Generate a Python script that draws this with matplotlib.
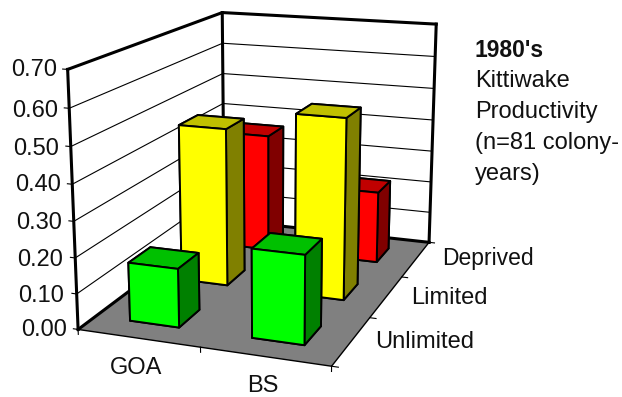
import numpy as np
import matplotlib
matplotlib.use('Agg')
import matplotlib.pyplot as plt
from mpl_toolkits.mplot3d.art3d import Poly3DCollection

# --- data ---
regions = ['GOA', 'BS']
food_levels = ['Unlimited', 'Limited', 'Deprived']
unlimited = [0.165, 0.245]
limited = [0.465, 0.525]
deprived = [0.365, 0.22]
z_ticks = [0.0, 0.1, 0.2, 0.3, 0.4, 0.5, 0.6, 0.7]

# front, top, side shades for each series
shades = {
    'Unlimited': ('#00FF00', '#00C000', '#008000'),
    'Limited': ('#FFFF00', '#C0C000', '#808000'),
    'Deprived': ('#FF0000', '#C00000', '#800000'),
}
series = {'Unlimited': unlimited, 'Limited': limited, 'Deprived': deprived}

plt.rcParams['font.family'] = ['Liberation Sans', 'DejaVu Sans']
W, H = 622, 397
fig = plt.figure(figsize=(W / 100, H / 100), dpi=100)
ax = fig.add_axes([0.030, -0.051, 0.786, 1.232], projection='3d')
ax.computed_zorder = False
ax.set_proj_type('persp', focal_length=0.50)
ax.view_init(elev=15, azim=-70)
ax.set_xlim(0, 2, view_margin=0)
ax.set_ylim(0, 3, view_margin=0)
ax.set_zlim(0, 0.7, view_margin=0)
ax.set_box_aspect((0.99, 1.46, 0.985))
ax.set_axis_off()
ax.patch.set_alpha(0)

nx, ny, top = len(regions), len(food_levels), z_ticks[-1]

# floor
floor = Poly3DCollection([[(0, 0, 0), (nx, 0, 0), (nx, ny, 0), (0, ny, 0)]],
                         facecolor='#808080', edgecolor='none', zorder=1)
ax.add_collection3d(floor)

# gridlines on the two walls
for z in z_ticks[1:-1]:
    ax.plot([0, 0, nx], [0, ny, ny], [z, z, z], color='k', lw=0.8, zorder=2)

# thick frame
for xs, ys, zs in [([0, 0, nx], [0, ny, ny], [top, top, top]),
                   ([0, 0], [0, 0], [0, top]),
                   ([0, 0], [ny, ny], [0, top]),
                   ([nx, nx], [ny, ny], [0, top]),
                   ([0, 0, nx], [0, ny, ny], [0, 0, 0])]:
    ax.plot(xs, ys, zs, color='k', lw=2.2, zorder=3, solid_capstyle='projecting')

# thin floor edges and ticks
ax.plot([0, nx, nx], [0, 0, ny], [0, 0, 0], color='k', lw=1.0, zorder=3)
for i in range(nx + 1):
    ax.plot([i, i], [0, 0], [0, -0.014], color='k', lw=0.8, zorder=3)
for j in range(ny + 1):
    ax.plot([nx, nx + 0.05], [j, j], [0, 0], color='k', lw=0.8, zorder=3)
for z in z_ticks:
    ax.plot([-0.04, 0], [0, 0], [z, z], color='k', lw=0.8, zorder=3)

# bars, back to front
zo = 10
for j in [2, 1, 0]:
    name = food_levels[j]
    front, top_c, side = shades[name]
    for i in range(nx):
        # faces: bottom, top, front, back, left, right
        ax.bar3d(i + 0.29, j + 0.3, 0, 0.41, 0.4, series[name][i],
                 color=[side, top_c, front, side, side, side], shade=False,
                 edgecolor='k', linewidth=1.4, zorder=zo)
        zo += 1

# text is placed in picture pixels
def px_text(x, y, s, size=17, **kw):
    fig.text(x / W, 1 - y / H, s, fontsize=size, color='#111111', va='baseline', **kw)

for z, x, y in zip(z_ticks, [66.5, 64, 63, 62, 60.5, 59.5, 58.5, 57],
                   [336, 302, 266, 229, 191, 155, 117, 76]):
    px_text(x, y, f'{z:.2f}', ha='right')
px_text(110, 374, regions[0])
px_text(247, 392, regions[1])
px_text(442, 265, food_levels[2], size=16.5)
px_text(411, 304, food_levels[1])
px_text(375, 348, food_levels[0])
px_text(475, 57, "1980's", size=16.5, fontweight='bold')
for s, y in zip(['Kittiwake', 'Productivity', '(n=81 colony-', 'years)'], [87, 118, 149, 180]):
    px_text(475, y, s)

fig.savefig('out.png', dpi=100)
